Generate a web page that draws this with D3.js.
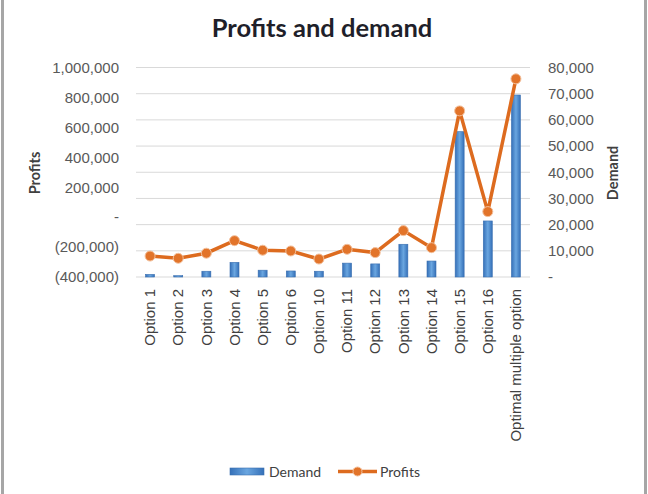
<!DOCTYPE html>
<html>
<head>
<meta charset="utf-8">
<script src="https://cdn.jsdelivr.net/npm/d3@7"></script>
<style>
  html, body { margin: 0; padding: 0; background: #fff; }
  #chart { width: 648px; height: 494px; }
</style>
</head>
<body>
<div id="chart"></div>
<script>
// Chart data
const categories = ["Option 1", "Option 2", "Option 3", "Option 4", "Option 5", "Option 6",
  "Option 10", "Option 11", "Option 12", "Option 13", "Option 14", "Option 15",
  "Option 16", "Optimal multiple option"];
const demand = [1000, 500, 2200, 5600, 2600, 2300, 2200, 5300, 5000, 12500, 6100, 55500, 21400, 69500];
const profits = [-260000, -275000, -241000, -157000, -221000, -226000, -280000,
  -215000, -237000, -90000, -204000, 710000, 37000, 924000];
const profitTicks = [-400000, -200000, 0, 200000, 400000, 600000, 800000, 1000000];
const demandTicks = [0, 10000, 20000, 30000, 40000, 50000, 60000, 70000, 80000];

// Plot area
const width = 648, height = 494;
const plot = { left: 136, right: 530, top: 67.5, bottom: 277 };

const svg = d3.select("#chart")
  .append("svg")
    .attr("width", width)
    .attr("height", height)
    .style("font-family", "Lato, 'Open Sans', sans-serif");

// gradient for the bars
const defs = svg.append("defs");
const grad = defs.append("linearGradient").attr("id", "barGrad")
  .attr("x1", "0%").attr("x2", "100%").attr("y1", "0%").attr("y2", "0%");
grad.append("stop").attr("offset", "0%").attr("stop-color", "#3570b8");
grad.append("stop").attr("offset", "50%").attr("stop-color", "#6aa6e0");
grad.append("stop").attr("offset", "100%").attr("stop-color", "#3570b8");

// side borders of the chart area
svg.append("rect").attr("x", 1).attr("y", 0).attr("width", 3).attr("height", height).attr("fill", "#a6a6a6");
svg.append("rect").attr("x", 644).attr("y", 0).attr("width", 3).attr("height", height).attr("fill", "#a6a6a6");

// scales
const x = d3.scaleBand()
  .domain(categories)
  .range([plot.left, plot.right]);

const yLeft = d3.scaleLinear()
  .domain([-400000, 1000000])
  .range([plot.bottom, plot.top]);

const yRight = d3.scaleLinear()
  .domain([0, 80000])
  .range([plot.bottom, plot.top]);

const fmt = v => v === 0 ? "-" : (v < 0 ? "(" + d3.format(",")(-v) + ")" : d3.format(",")(v));

// gridlines (follow the demand axis)
svg.append("g")
  .selectAll("line")
  .data(demandTicks)
  .join("line")
    .attr("x1", plot.left)
    .attr("x2", plot.right)
    .attr("y1", d => yRight(d))
    .attr("y2", d => yRight(d))
    .attr("stroke", "#d9d9d9")
    .attr("stroke-width", 1);

// left axis
const leftAxis = svg.append("g")
  .attr("transform", `translate(${plot.left},0)`)
  .call(d3.axisLeft(yLeft).tickValues(profitTicks).tickFormat(fmt).tickSize(0).tickPadding(17));
leftAxis.select(".domain").remove();
leftAxis.selectAll(".tick text")
  .attr("fill", "#595959")
  .style("font-size", "15px");

// right axis
const rightAxis = svg.append("g")
  .attr("transform", `translate(${plot.right},0)`)
  .call(d3.axisRight(yRight).tickValues(demandTicks).tickFormat(fmt).tickSize(0).tickPadding(18));
rightAxis.select(".domain").remove();
rightAxis.selectAll(".tick text")
  .attr("fill", "#595959")
  .style("font-size", "15px");

// x axis labels
const xAxis = svg.append("g")
  .attr("transform", `translate(0,${plot.bottom})`)
  .call(d3.axisBottom(x).tickSize(0));
xAxis.select(".domain").remove();
xAxis.selectAll(".tick text")
  .attr("transform", "translate(0,12) rotate(-90)")
  .attr("x", 0)
  .attr("y", 0)
  .attr("dy", "0.35em")
  .style("text-anchor", "end")
  .style("font-size", "15px")
  .attr("fill", "#404040");

// bars (demand, right axis)
const barW = 9;
svg.append("g")
  .selectAll("rect")
  .data(categories)
  .join("rect")
    .attr("x", d => x(d) + x.bandwidth() / 2 - barW / 2)
    .attr("y", (d, i) => yRight(demand[i]))
    .attr("width", barW)
    .attr("height", (d, i) => yRight(0) - yRight(demand[i]))
    .attr("fill", "url(#barGrad)")
    .attr("stroke", "#3a6fb0")
    .attr("stroke-width", 0.6);

// profits line (left axis)
const line = d3.line()
  .x((d, i) => x(categories[i]) + x.bandwidth() / 2)
  .y(d => yLeft(d));

svg.append("path")
  .datum(profits)
  .attr("fill", "none")
  .attr("stroke", "#dd6b1f")
  .attr("stroke-width", 3.5)
  .attr("d", line);

svg.append("g")
  .selectAll("circle")
  .data(profits)
  .join("circle")
    .attr("cx", (d, i) => x(categories[i]) + x.bandwidth() / 2)
    .attr("cy", d => yLeft(d))
    .attr("r", 5)
    .attr("fill", "#e2742a")
    .attr("stroke", "#f3c09c")
    .attr("stroke-width", 1);

// title
svg.append("text")
  .attr("x", 322)
  .attr("y", 37)
  .style("text-anchor", "middle")
  .style("font-size", "25.5px")
  .style("font-weight", "bold")
  .attr("fill", "#1f1f2a")
  .text("Profits and demand");

// y axis names
svg.append("text")
  .attr("transform", "translate(40,173) rotate(-90)")
  .style("text-anchor", "middle")
  .style("font-size", "14.5px")
  .style("font-weight", "bold")
  .attr("fill", "#404040")
  .text("Profits");

svg.append("text")
  .attr("transform", "translate(618,173) rotate(-90)")
  .style("text-anchor", "middle")
  .style("font-size", "14.5px")
  .style("font-weight", "bold")
  .attr("fill", "#404040")
  .text("Demand");

// legend
const legend = svg.append("g");
legend.append("rect")
  .attr("x", 230).attr("y", 468)
  .attr("width", 34).attr("height", 7)
  .attr("fill", "url(#barGrad)")
  .attr("stroke", "#3a6fb0").attr("stroke-width", 0.6);
legend.append("text")
  .attr("x", 269).attr("y", 476.5)
  .style("font-size", "14px")
  .attr("fill", "#404040")
  .text("Demand");
legend.append("line")
  .attr("x1", 338).attr("x2", 377)
  .attr("y1", 471.5).attr("y2", 471.5)
  .attr("stroke", "#dd6b1f").attr("stroke-width", 3.5);
legend.append("circle")
  .attr("cx", 357.5).attr("cy", 471.5).attr("r", 4.5)
  .attr("fill", "#e2742a")
  .attr("stroke", "#f3c09c").attr("stroke-width", 1);
legend.append("text")
  .attr("x", 380).attr("y", 476.5)
  .style("font-size", "14px")
  .attr("fill", "#404040")
  .text("Profits");
</script>
</body>
</html>
